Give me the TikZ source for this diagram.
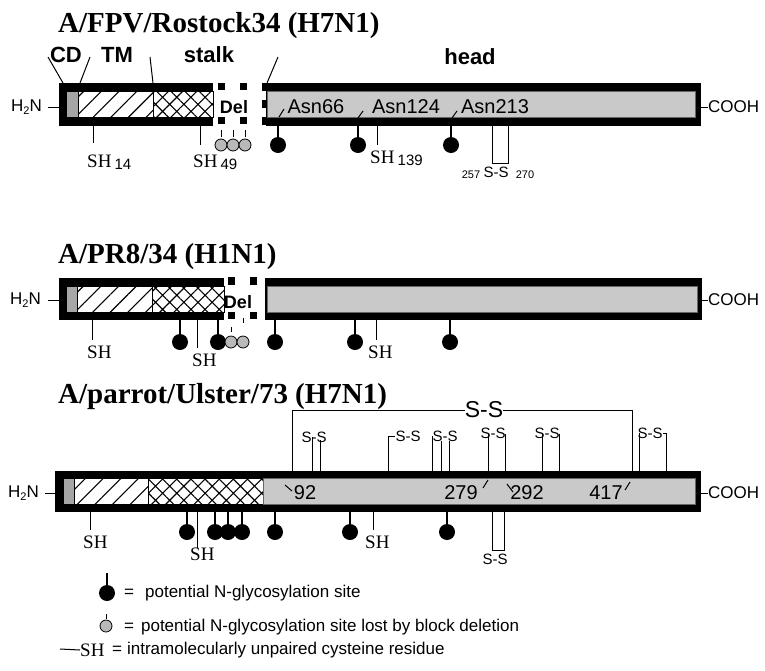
\documentclass[tikz,border=0pt]{standalone}
\usepackage{fontspec}
\setmainfont{Liberation Serif}
\setsansfont{Liberation Sans}
\usetikzlibrary{patterns.meta}
\newcommand{\shnum}[1]{\,\raisebox{-2pt}{\sffamily\fontsize{15}{15}\selectfont #1}}
\newcommand{\hzn}{H\raisebox{-3pt}{\fontsize{11}{11}\selectfont 2}N}

\begin{document}
\begin{tikzpicture}[x=1pt, y=-1pt,
        outer/.style={fill=black},
        cdpart/.style={draw=black, line width=0.6pt, fill=gray!70},
        tmpart/.style={draw=black, line width=0.6pt, preaction={fill=white}, pattern={Lines[angle=45,distance=12.5pt,line width=1.1pt]}, pattern color=black},
        stalkpart/.style={draw=black, line width=0.6pt, preaction={fill=white}, pattern={Hatch[angle=45,distance=10pt,line width=1.1pt]}, pattern color=black},
        headpart/.style={draw=black!60, line width=0.6pt, fill=gray!42},
        stem/.style={line width=2.4pt},
        glyc/.style={fill=black},
        lost/.style={draw=black, line width=0.8pt, fill=gray!55},
        thin/.style={line width=1pt},
        title/.style={font=\fontsize{29}{30}\selectfont\bfseries, anchor=base west, inner sep=0pt},
        partname/.style={font=\sffamily\bfseries\fontsize{22}{24}\selectfont, inner sep=0pt},
        dellabel/.style={font=\sffamily\bfseries\fontsize{18}{18}\selectfont, inner sep=0pt},
        term/.style={font=\sffamily\fontsize{17}{18}\selectfont, inner sep=0pt},
        inbar/.style={font=\sffamily\fontsize{20}{20}\selectfont, inner sep=0pt},
        shlabel/.style={font=\fontsize{19}{19}\selectfont, anchor=base west, inner sep=0pt},
        sslabel/.style={font=\sffamily\fontsize{15}{15}\selectfont, inner sep=0pt},
        posnum/.style={font=\sffamily\fontsize{11}{11}\selectfont, inner sep=0pt},
        bigss/.style={font=\sffamily\fontsize{23}{23}\selectfont, inner sep=0pt},
        legend/.style={font=\sffamily\fontsize{17}{18}\selectfont, anchor=west, inner sep=0pt}
    ]
    \useasboundingbox (0,0) rectangle (765,670);

    %% --- Row 1: A/FPV/Rostock34 (H7N1) ---
    \node[title] (title1) at (58,32) {A/FPV/Rostock34 (H7N1)};
    \node[partname] (cd)    at (66,55)  {CD};
    \node[partname] (tm)    at (117,55) {TM};
    \node[partname] (stalk) at (209,55) {stalk};
    \node[partname] (head)  at (470,57) {head};
    \draw[thin] (48,57)  -- (63,83);
    \draw[thin] (90,57)  -- (80,83);
    \draw[thin] (150,57) -- (153,83);
    \draw[thin] (278,57) -- (267,83);

    \node[term, anchor=east] (nterm1) at (42,107) {\hzn};
    \coordinate (left1) at (59,107);
    \draw[thin] (nterm1.east) ++(6,0) -- (left1);
    \fill[outer] (59,83) rectangle (213,126);
    \path[cdpart]    (66,91)  rectangle (78,117);
    \path[tmpart]    (78,91)  rectangle (153,117);
    \path[stalkpart] (153,91) rectangle (213,117);
    \foreach \x in {218,240} {
        \fill (\x,83)  rectangle ++(7,7);
        \fill (\x,117) rectangle ++(7,7);
    }
    \node[dellabel] (del1) at (234,107) {Del};
    \fill[outer] (266,83) rectangle (701,126);
    \path[headpart] (267,91) rectangle (695,117);
    \draw[line width=4pt, dash pattern=on 8pt off 9pt] (264,83) -- (264,126);
    \coordinate (right1) at (701,107);
    \node[term, anchor=west] (cterm1) at (708,107) {COOH};
    \draw[thin] (right1) -- (cterm1.west);

    \node[inbar] (asn66)  at (316,107) {Asn66};
    \node[inbar] (asn124) at (406,107) {Asn124};
    \node[inbar] (asn213) at (495,107) {Asn213};
    \draw[thin] (279,117) -- (284,109);
    \draw[thin] (358,118) -- (363,111);
    \draw[thin] (452,118) -- (457,111);

    \foreach \x in {278,358,451} {
        \draw[stem] (\x,126) -- (\x,140);
        \fill[glyc] (\x,145) circle[radius=8pt];
    }
    \foreach \x in {221,233,245} {
        \draw[thin] (\x,130) -- (\x,137);
        \path[lost] (\x,145) circle[radius=6pt];
    }
    \draw[thin] (93,126)  -- (93,143);
    \draw[thin] (200,126) -- (200,145);
    \draw[thin] (377,126) -- (377,145);
    \node[shlabel] (sh14)  at (87,167)  {SH\shnum{14}};
    \node[shlabel] (sh49)  at (193,167) {SH\shnum{49}};
    \node[shlabel] (sh139) at (370,163) {SH\shnum{139}};
    \draw[thin] (492,126) |- (508,163) -- (508,126);
    \node[posnum]  (c257) at (471,175) {257};
    \node[sslabel] (ss1)  at (496,172) {S-S};
    \node[posnum]  (c270) at (525,175) {270};

    %% --- Row 2: A/PR8/34 (H1N1) ---
    \node[title] (title2) at (58,263) {A/PR8/34 (H1N1)};
    \node[term, anchor=east] (nterm2) at (41,300) {\hzn};
    \coordinate (left2) at (59,300);
    \draw[thin] (nterm2.east) ++(7,0) -- (left2);
    \fill[outer] (59,278) rectangle (224,320);
    \path[cdpart]    (66,286)  rectangle (77,312);
    \path[tmpart]    (77,286)  rectangle (152,312);
    \path[stalkpart] (152,286) rectangle (224,312);
    \foreach \x in {228,250} {
        \fill (\x,277) rectangle ++(7,8);
        \fill (\x,312) rectangle ++(7,7);
    }
    \node[dellabel] (del2) at (238,302) {Del};
    \fill[outer] (265,278) rectangle (702,320);
    \path[headpart] (267,286) rectangle (697,312);
    \coordinate (right2) at (702,300);
    \node[term, anchor=west] (cterm2) at (708,300) {COOH};
    \draw[thin] (right2) -- (cterm2.west);

    \foreach \x in {180,218,275,355,450} {
        \draw[stem] (\x,320) -- (\x,336);
        \fill[glyc] (\x,342) circle[radius=8pt];
    }
    \draw[thin] (231,327) -- (231,332);
    \draw[thin] (243,318) -- (243,323);
    \foreach \x in {231,243} {
        \path[lost] (\x,342) circle[radius=6pt];
    }
    \draw[thin] (92,320)  -- (92,340);
    \draw[thin] (197,320) -- (197,348);
    \draw[thin] (376,320) -- (376,340);
    \node[shlabel] (sh2a) at (87,358)  {SH};
    \node[shlabel] (sh2b) at (192,366) {SH};
    \node[shlabel] (sh2c) at (368,358) {SH};

    %% --- Row 3: A/parrot/Ulster/73 (H7N1) ---
    \node[title] (title3) at (58,403) {A/parrot/Ulster/73 (H7N1)};
    \node[term, anchor=east] (nterm3) at (39,493) {\hzn};
    \coordinate (left3) at (55,493);
    \draw[thin] (nterm3.east) ++(6,0) -- (left3);
    \fill[outer] (55,471) rectangle (701,512);
    \path[cdpart]    (63,478)  rectangle (74,504);
    \path[tmpart]    (74,478)  rectangle (148,504);
    \path[stalkpart] (148,478) rectangle (263,504);
    \path[headpart]  (263,478) rectangle (695,504);
    \coordinate (right3) at (701,493);
    \node[term, anchor=west] (cterm3) at (708,493) {COOH};
    \draw[thin] (right3) -- (cterm3.west);

    \node[inbar] (p92)  at (305,493) {92};
    \node[inbar] (p279) at (461,493) {279};
    \node[inbar] (p292) at (527,493) {292};
    \node[inbar] (p417) at (606,493) {417};
    \draw[thin] (285,485) -- (292,491);
    \draw[thin] (483,488) -- (488,480);
    \draw[thin] (507,484) -- (513,492);
    \draw[thin] (625,490) -- (630,482);

    %% long-range bond above the head
    \node[bigss] (ssbig) at (484,410) {S-S};
    \draw[thin] (292,471) |- (ssbig.west);
    \draw[thin] (ssbig.east) -| (632,471);
    %% short bonds above
    \node[sslabel] (ssa) at (314,437) {S-S};
    \node[sslabel] (ssb) at (408,436) {S-S};
    \node[sslabel] (ssc) at (445,436) {S-S};
    \node[sslabel] (ssd) at (493,433) {S-S};
    \node[sslabel] (sse) at (547,433) {S-S};
    \node[sslabel] (ssf) at (650,433) {S-S};
    \draw[thin] (312,471) -- (312,437);
    \draw[thin] (320,471) -- (320,440);
    \draw[thin] (388,471) |- (ssb.west);
    \draw[thin] (432,471) |- (ssc.west);
    \draw[thin] (441,471) -- (441,441);
    \draw[thin] (449,471) -- (449,441);
    \draw[thin] (488,471) -- (488,434);
    \draw[thin] (505,471) -- (505,434);
    \draw[thin] (542,471) -- (542,434);
    \draw[thin] (559,471) -- (559,434);
    \draw[thin] (639,471) -- (639,433);
    \draw[thin] (666,471) |- (ssf.east);

    \foreach \x in {187,215,228,242,275,350,447} {
        \draw[stem] (\x,512) -- (\x,526);
        \fill[glyc] (\x,532) circle[radius=8pt];
    }
    \draw[thin] (90,512)  -- (90,530);
    \draw[thin] (197,512) -- (197,548);
    \draw[thin] (373,512) -- (373,530);
    \node[shlabel] (sh3a) at (83,548)  {SH};
    \node[shlabel] (sh3b) at (190,560) {SH};
    \node[shlabel] (sh3c) at (365,548) {SH};
    \draw[thin] (492,512) |- (504,550) -- (504,512);
    \node[sslabel] (ssg) at (495,559) {S-S};

    %% --- Legend ---
    \draw[stem] (107,573) -- (107,586);
    \fill[glyc] (107,593) circle[radius=8pt];
    \node[legend] (leg1) at (124,593) {=\hspace{11pt}potential N-glycosylation site};
    \draw[thin] (106,614) -- (106,619);
    \path[lost] (106,626) circle[radius=6pt];
    \node[legend] (leg2) at (124,627) {=\hspace{7pt}potential N-glycosylation site lost by block deletion};
    \node[shlabel, anchor=west] (legsh) at (80,650) {SH};
    \draw[thin] (60,649) -- (legsh.west);
    \node[legend] (leg3) at (112,650) {=\hspace{5pt}intramolecularly unpaired cysteine residue};
\end{tikzpicture}
\end{document}
